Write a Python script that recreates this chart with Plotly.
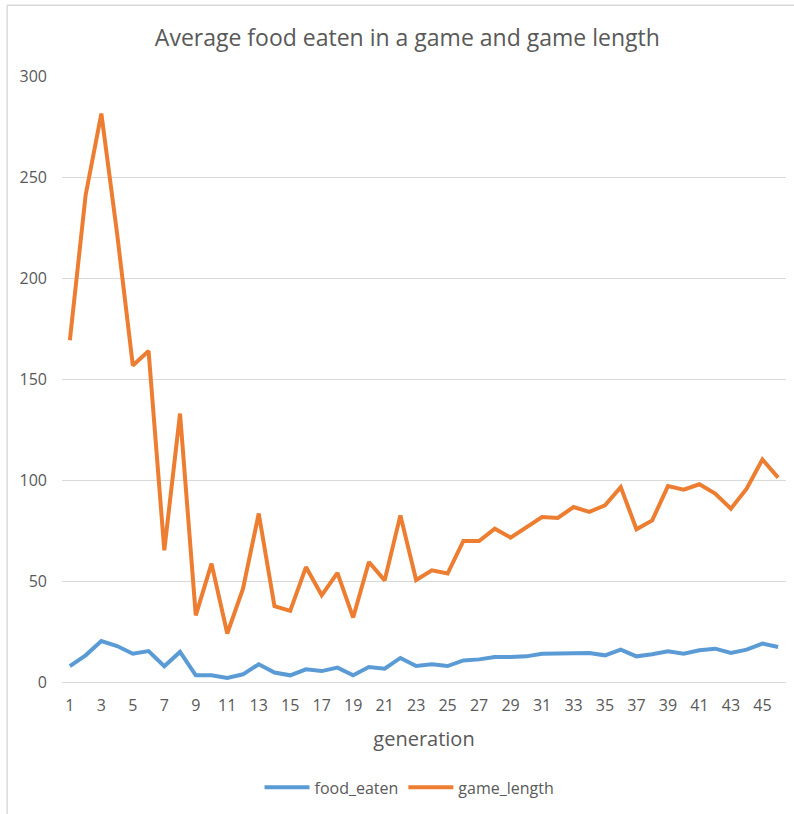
import plotly.graph_objects as go

generation = list(range(1, 47))
food_eaten = [7.9, 13.2, 20.3, 17.8, 14.0, 15.3, 7.8, 14.9, 3.3, 3.3,
              2.0, 3.8, 8.8, 4.7, 3.3, 6.3, 5.4, 7.1, 3.3, 7.4,
              6.6, 11.9, 7.9, 8.8, 7.9, 10.7, 11.2, 12.4, 12.4, 12.7,
              14.0, 14.0, 14.0, 14.4, 13.2, 16.0, 12.7, 13.7, 15.2, 14.0,
              15.7, 16.5, 14.4, 16.0, 19.0, 17.3]
game_length = [169.2, 241.0, 281.4, 222.0, 156.7, 163.9, 65.2, 132.9, 33.0, 58.6,
               24.0, 46.2, 83.4, 37.5, 35.2, 56.9, 42.9, 54.0, 31.9, 59.4,
               50.3, 82.5, 50.5, 55.3, 53.7, 69.8, 69.8, 75.9, 71.5, 76.5,
               81.7, 81.2, 86.6, 84.2, 87.5, 96.5, 75.6, 80.0, 97.0, 95.2,
               97.9, 93.3, 85.8, 95.7, 110.2, 101.2]
x_ticks = list(range(1, 47, 2))
y_ticks = [0, 50, 100, 150, 200, 250, 300]

FONT = "Open Sans"
GRAY = "#595959"

fig = go.Figure()
fig.add_trace(go.Scatter(x=generation, y=food_eaten, mode="lines", name="food_eaten",
                         line=dict(color="#5B9BD5", width=4)))
fig.add_trace(go.Scatter(x=generation, y=game_length, mode="lines", name="game_length",
                         line=dict(color="#ED7D31", width=4)))

fig.update_layout(
    width=794, height=814,
    margin=dict(l=62, r=8, t=76, b=132),
    paper_bgcolor="white", plot_bgcolor="white",
    font=dict(family=FONT, color=GRAY, size=16),
    title=dict(text="Average food eaten in a game and game length",
               font=dict(family=FONT, size=23, color=GRAY),
               xref="container", x=0.513, xanchor="center",
               yref="container", y=1 - 38 / 814, yanchor="middle"),
    xaxis=dict(range=[0.5, 46.5], tickmode="array", tickvals=x_ticks,
               ticktext=[str(v) for v in x_ticks], showgrid=False, zeroline=False,
               showline=True, linecolor="#D9D9D9", linewidth=1,
               ticks="", ticklabelstandoff=9,
               tickfont=dict(size=16, color=GRAY),
               title=dict(text="generation", font=dict(size=20, color=GRAY), standoff=16)),
    yaxis=dict(range=[0, 300], tickmode="array", tickvals=y_ticks,
               showgrid=True, gridcolor="#D9D9D9", gridwidth=1, zeroline=False,
               showline=False, ticks="", ticklabelstandoff=14,
               tickfont=dict(size=16, color=GRAY)),
    legend=dict(orientation="h", x=0.48, xanchor="center", y=-0.174, yanchor="middle",
                font=dict(size=16, color=GRAY), bgcolor="rgba(0,0,0,0)", itemwidth=45),
    showlegend=True,
    shapes=[
        dict(type="line", xref="paper", yref="paper", x0=-0.0758, x1=-0.0758,
             y0=-0.3, y1=1.1167, line=dict(color="#D9D9D9", width=1.5)),
        dict(type="line", xref="paper", yref="paper", x0=-0.0758, x1=1.02,
             y0=1.1167, y1=1.1167, line=dict(color="#D9D9D9", width=1.5)),
    ],
)

fig.write_html("out.html")
